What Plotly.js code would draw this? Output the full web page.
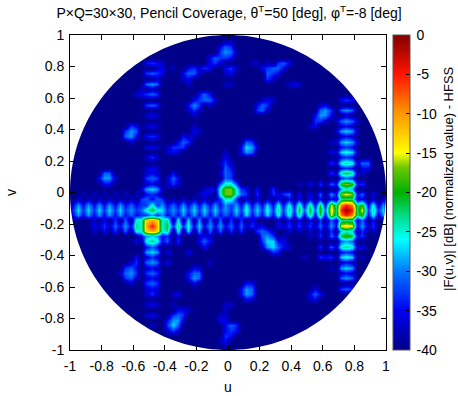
<!DOCTYPE html>
<html>
<head>
<meta charset="utf-8">
<script src="https://cdn.plot.ly/plotly-3.0.1.min.js"></script>
<style>html,body{margin:0;padding:0;background:#fff}</style>
</head>
<body>
<div id="chart" style="width:458px;height:396px"></div>
<script>
// |F(u,v)|, one letter per grid cell, in groups of ten cells.
// "." is the dark background, a..s go up in 2 dB steps. Short rows are background to the right.
var levelLetters = ".abcdefghijklmnopqrs";
var levelDb = [-40,-37,-35,-33,-31,-29,-27,-25,-23,-21,-19,-17,-15,-13,-11,-9,-7,-5,-3,-1];
var zRows = [
"",
"",
".......... .......... .......... aa........",
".......... .......... .........b dc........",
".......... .......... .........c eda.......",
".......... .......... .......bdc cb........",
".......... .....bcba. .......bca .....aa.a. cdb.......",
".......... .......ab. a..bcacb.. bca....bcd db........",
".......... .....cdcb. ..bdda.... ab......dc b.........",
".......... .......a.. ..ab...... ........ca",
".......... .....ded.. ...a...... aa........ ..aba.....",
".......... ....a.a...",
".......... ...abcdc.. .....bdb..",
".......... .......... ....bcdda. .......aba .......... ..bcb.....",
".......... .....cdc.. ...bec.a.. ......bdc. ........ab",
".......... .......... ...aca.... ......cda. ........de c.ded.....",
".......... .....aba.. ....a..... .......... .......bee b..a......",
".......... .......... .......... .......... .......cca .adeda....",
".......... ..cb.aba.. ....a..... .......... ......ab.. ..aba.....",
".......... .ced...... ....ba.... .......... .......... .aefea....",
".......... .deb.bcb.. ..baa..... .......... .......... ..aba.....",
".......... ..a....... .bdc...... ....dc.... .......... aaefea....",
".......... .....aba.a ccc....... ...bfea... .......... ..bcb.....",
".......... .........a ba........ a..bed.... .......... bafgfa....",
".......... .....aca.. .......... b......... .......... ..bcb.....",
".......... .......... .........a ca........ .......... caghgadd..",
".......... .....aba.. .......... db........ .......... ..bcb.bb..",
".......dd. .....aba.. b........a dc........ .......... cahihaa...",
"......beea .....cdc.a db........ dc........ .......... ..cdc.....",
".......bb. .....aba.a ca.......d ggd....... ....a.b.c. dbjkjbc...",
".......... ....aefea. ......abag kkgcb.b..c .......... ..ege.....",
"...a.a.a.a .a.a.bcb.. .....aba.g kkgdc.c..c acd.b.b.d. ebklkbd.b.",
"..a.a.a.a. a.a.cdbdc. a.a.a.a.ac ggc.a.a.a. b.b.b.b.b. bahhhab.a. a.",
".bebebebeb ebdbccgceb dbebebebeb ecebfbebfb gbgbhbhbib lhoqohjbga e.",
".cfcfcfcfc fcecdgigfc ecfcfcfcfc ecfcgcfcgc hchcididjd mhqsqhlchc f.",
".bebebebeb ebdbcceceb dbebebebeb dbebfbebfb gbgbhbhbib lhoqohjbga e.",
".....a.b.c .d.ggmnmgh .g.f.e.d.d .c.c.b.... a.b.b.b.c. dahhhad.b.",
".....bacad bebhgnqngi chcgbfbebe bdadacab.. bacacacada eblmlbeac.",
".....a.b.c .d.ggmnmgh .g.f.e.d.d .c.c..cdca ..a.a.a.b. c.fgf.c.a.",
".......... ....befebc .b...aba.. .......dec .a....a.c. dbijibc...",
".......... ...b.ghgbd .c...bdb.. .......cff bb........ ..ded.....",
".......... .....bdb.. ......b... .......aef dba.....c. daghgab...",
".......... .....efe.b ...b...... .........c b......... ..bcb.....",
".......... ...b.aca.. .......... .......... .....a..cb c.fgf.a...",
".......... ..ac.ded.b .......a.. .......... .......... ..aba.....",
".......... .cdb.aba.. ....ba.... .......... .......... a.efe.....",
".......... adec.cdc.. ...bdd.... .......... .......... ..aba.....",
".......... .cda.aba.. ...bed.... .......... .......... ..ded.....",
".......... ..a..cdc.. ....b..... ....bb....",
".......... .....aba.. .......... ...bed.... .......b.. ..cdc.....",
".......... .....aca.. ab........ ...bed.... ......bdb.",
".......... .......... .......... ....ba.... ......ab..",
".......... .....aba.. a......... aa........",
".......... .......... .bba...... a.........",
".......... .....aba.. cdc......a a.........",
".......... .........b eea......b b.........",
".......... ......a..c fd........ bdc.......",
".......... .........a ca........ bcb.......",
".......... .......... .......... cb........",
".......... .......... .........a b.........",
".......... .......... .......... a.........",
""
];
var colorStops = [
    [0, "#000088"], [0.125, "#0000f0"], [0.25, "#0078ff"], [0.35, "#00ffff"],
    [0.42, "#00e090"], [0.5, "#00b000"], [0.58, "#70c800"], [0.625, "#ffff00"],
    [0.75, "#ff9800"], [0.875, "#ff1400"], [1, "#800000"]
];
var titleText = "P×Q=30×30, Pencil Coverage, θ<sup>T</sup>=50 [deg], φ<sup>T</sup>=-8 [deg]";
var barTitle = "|F(u,v)| [dB] (normalized value) - HFSS";
var axisTicks = [-1, -0.8, -0.6, -0.4, -0.2, 0, 0.2, 0.4, 0.6, 0.8, 1];
var axisLabels = ["-1", "-0.8", "-0.6", "-0.4", "-0.2", "0", "0.2", "0.4", "0.6", "0.8", "1"];
var barTicks = [0, -5, -10, -15, -20, -25, -30, -35, -40];
var barLabels = ["\u20090", "\u2009-5", "\u2009-10", "\u2009-15", "\u2009-20", "\u2009-25", "\u2009-30", "\u2009-35", "\u2009-40"];

var cells = 62;
var uGrid = [], vGrid = [], zGrid = [];
for (var i = 0; i < cells; i++) {
    uGrid.push(-1.0167 + i / 30);
    vGrid.push(1.0233 - i / 30);
}
for (var r = 0; r < cells; r++) {
    var row = zRows[r].replace(/ /g, "").padEnd(cells, ".");
    var values = [];
    for (var c = 0; c < cells; c++) {
        values.push(levelDb[levelLetters.indexOf(row[c])]);
    }
    zGrid.push(values);
}

// white outside the unit circle, keyhole polygon so the ticks stay on top
var maskX = [-1, 1, 1, -1, -1], maskY = [1, 1, -1, -1, 0];
for (var a = 0; a <= 180; a++) {
    maskX.push(-Math.cos(a * Math.PI / 90));
    maskY.push(-Math.sin(a * Math.PI / 90));
}
maskX.push(-1);
maskY.push(0);

var data = [{
    type: "heatmap",
    x: uGrid,
    y: vGrid,
    z: zGrid,
    zmin: -40,
    zmax: 0,
    zsmooth: "best",
    colorscale: colorStops,
    hoverinfo: "none",
    colorbar: {
        x: 1.022,
        xanchor: "left",
        y: 0,
        yanchor: "bottom",
        len: 1,
        thickness: 17,
        xpad: 0,
        ypad: 0,
        tickvals: barTicks,
        ticktext: barLabels,
        ticks: "inside",
        ticklen: 4,
        tickcolor: "#000",
        outlinecolor: "#555",
        outlinewidth: 1,
        tickfont: {size: 14, color: "#000"}
    }
}, {
    type: "scatter",
    mode: "none",
    x: maskX,
    y: maskY,
    fill: "toself",
    fillcolor: "#fff",
    hoverinfo: "skip",
    showlegend: false
}];

function axis(label) {
    return {
        range: [-1, 1],
        tickvals: axisTicks,
        ticktext: axisLabels,
        ticks: "inside",
        ticklen: 5,
        tickcolor: "#000",
        tickfont: {size: 14, color: "#000"},
        showline: true,
        linecolor: "#000",
        linewidth: 1,
        mirror: "allticks",
        showgrid: false,
        zeroline: false,
        title: {text: label, font: {size: 14, color: "#000"}}
    };
}

var xAxis = axis("u");
var yAxis = axis("v");
xAxis.ticklabelstandoff = 3;
yAxis.ticklabelstandoff = 2;
xAxis.title.standoff = 9;
yAxis.title.standoff = 20;

var layout = {
    width: 458,
    height: 396,
    margin: {l: 70, r: 72, t: 35, b: 46},
    paper_bgcolor: "#fff",
    plot_bgcolor: "#fff",
    font: {family: "Liberation Sans, Arial, sans-serif", size: 14, color: "#000"},
    title: {text: titleText, x: 0.5, xanchor: "center", y: 0.968, yanchor: "middle", font: {size: 14, color: "#000"}},
    xaxis: xAxis,
    yaxis: yAxis,
    annotations: [{
        text: barTitle,
        xref: "paper",
        yref: "paper",
        x: 1.196,
        y: 0.546,
        xanchor: "center",
        yanchor: "middle",
        showarrow: false,
        textangle: -90,
        font: {size: 13, color: "#000"}
    }]
};

Plotly.newPlot("chart", data, layout, {displayModeBar: false, staticPlot: true});
</script>
</body>
</html>
